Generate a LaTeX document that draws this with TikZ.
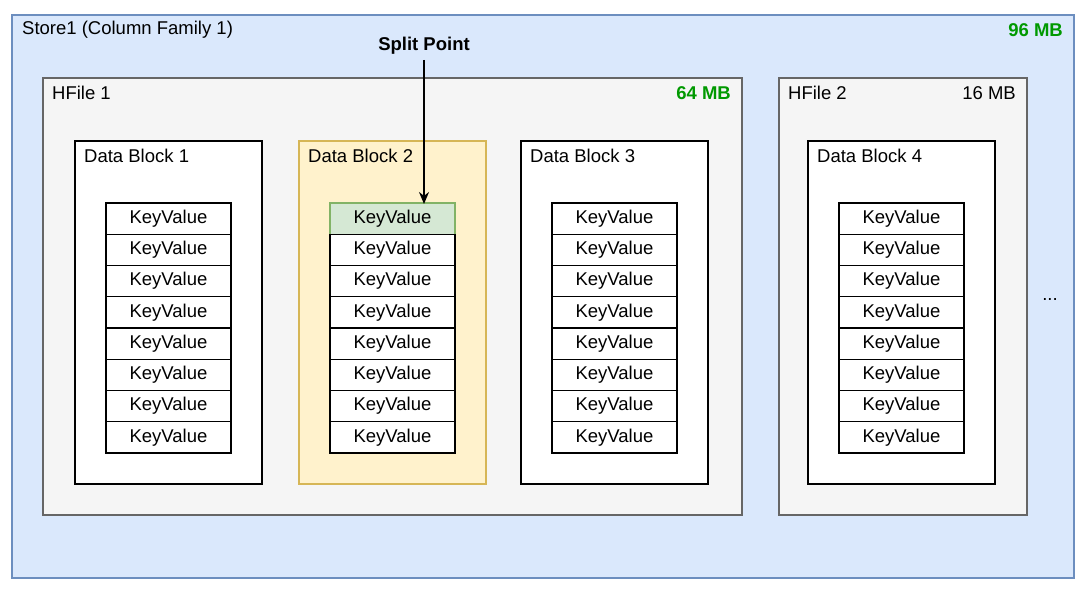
\documentclass[tikz,border=0pt]{standalone}
\usepackage{fontspec}
\setmainfont{Liberation Sans}
\usetikzlibrary{positioning,arrows.meta}

\definecolor{storefill}{HTML}{DAE8FC}
\definecolor{storeline}{HTML}{6C8EBF}
\definecolor{hfilefill}{HTML}{F5F5F5}
\definecolor{hfileline}{HTML}{666666}
\definecolor{splitfill}{HTML}{FFF2CC}
\definecolor{splitline}{HTML}{D6B656}
\definecolor{kvfill}{HTML}{D5E8D4}
\definecolor{kvline}{HTML}{82B366}
\definecolor{sizegreen}{HTML}{009900}

\newcommand{\diagfont}{\fontsize{18.5}{22}\selectfont}

\tikzset{
  box/.style={rectangle, anchor=north west, outer sep=0pt, line width=1.3pt},
  store/.style={box, fill=storefill, draw=storeline, minimum width=1062pt, minimum height=563pt},
  hfile/.style={box, fill=hfilefill, draw=hfileline, minimum height=437pt},
  datablock/.style={box, fill=white, draw=black, minimum width=187pt, minimum height=343pt},
  splitblock/.style={datablock, fill=splitfill, draw=splitline},
  keyvalue/.style={rectangle, draw=black, fill=white, line width=1.2pt, outer sep=0pt,
    minimum width=125pt, minimum height=31.25pt, inner sep=0pt},
  splitkv/.style={keyvalue, fill=kvfill, draw=kvline},
  label/.style={anchor=west, inner sep=0pt},
  size/.style={anchor=east, inner sep=0pt, font=\diagfont\bfseries, text=sizegreen},
}

\begin{document}
\begin{tikzpicture}[x=1pt, y=-1pt, font=\diagfont]
  \useasboundingbox (0,0) rectangle (1086,592);

  % store
  \node[store] (store) at (12,15) {};
  \node[label] (storename) at ([shift={(10pt,-15pt)}]store.north west) {Store1 (Column Family 1)};
  \node[size] (storesize) at ([shift={(-11pt,-15pt)}]store.north east) {96 MB};

  % hfiles
  \node[hfile, minimum width=699pt] (hfile1) at (43,78) {};
  \node[label] (hfile1name) at ([shift={(9pt,-15pt)}]hfile1.north west) {HFile 1};
  \node[size] (hfile1size) at ([shift={(-11pt,-15pt)}]hfile1.north east) {64 MB};

  \node[hfile, minimum width=248pt] (hfile2) at (779,78) {};
  \node[label] (hfile2name) at ([shift={(9pt,-15pt)}]hfile2.north west) {HFile 2};
  \node[label, anchor=east] (hfile2size) at ([shift={(-11pt,-15pt)}]hfile2.north east) {16 MB};

  % data blocks
  \node[datablock] (db1) at (75,141) {};
  \node[splitblock] (db2) at (299,141) {};
  \node[datablock] (db3) at (521,141) {};
  \node[datablock] (db4) at (808,141) {};
  \foreach \b in {1,...,4}
    \node[label] (db\b name) at ([shift={(9pt,-15pt)}]db\b.north west) {Data Block \b};

  % key values
  \foreach \b/\s in {1/keyvalue,2/splitkv,3/keyvalue,4/keyvalue}
    \node[\s, anchor=north] (kv\b-1) at ([yshift=-62pt]db\b.north) {KeyValue};
  \foreach \b in {1,...,4}
    \foreach \r [count=\p from 1] in {2,...,8}
      \node[keyvalue, below=0pt of kv\b-\p] (kv\b-\r) {KeyValue};

  % split point
  \node[font=\diagfont\bfseries, inner sep=3pt] (split) at (424,46) {Split Point};
  \draw[line width=1.3pt, -{Stealth[length=12pt,width=10pt]}]
    ([yshift=-2pt]split.south) -- ([yshift=-1pt]split.south |- kv2-1.north);

  \node (more) at (1050,300) {...};
\end{tikzpicture}
\end{document}
